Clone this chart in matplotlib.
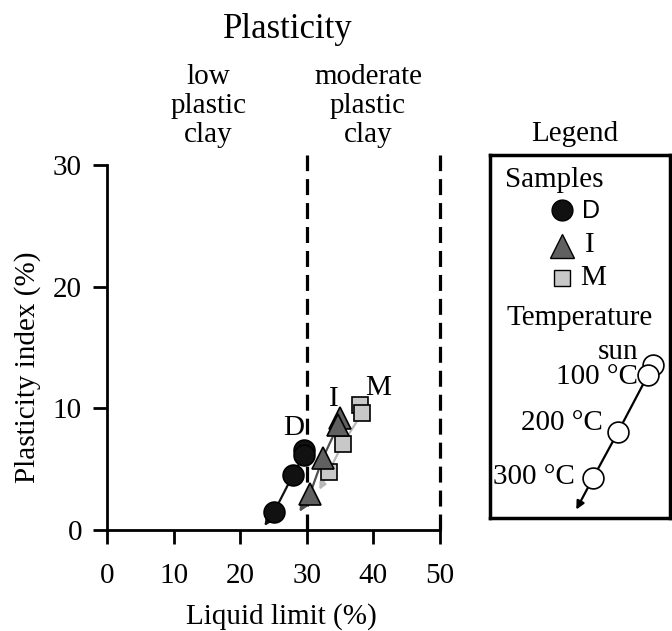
import matplotlib
matplotlib.use("Agg")
import matplotlib.pyplot as plt

plt.rcParams['font.family'] = ['Liberation Serif', 'DejaVu Serif']

# Data (liquid limit %, plasticity index %)
D_ll = [29.6, 29.6, 27.9, 25.1]
D_pi = [6.6, 6.2, 4.5, 1.5]
D_arrow = [23.4, 0.15]

I_ll = [35.0, 34.7, 32.4, 30.5]
I_pi = [9.2, 8.6, 5.9, 3.0]
I_arrow = [28.7, 1.3]

M_ll = [38.0, 38.3, 35.4, 33.3]
M_pi = [10.3, 9.6, 7.1, 4.8]
M_arrow = [31.7, 3.1]

xticks = [0, 10, 20, 30, 40, 50]
yticks = [0, 10, 20, 30]
boundaries = [30, 50]
zones = ["low\nplastic\nclay", "moderate\nplastic\nclay"]
zone_x = [15.2, 39.2]

FS = 21

fig = plt.figure(figsize=(6.72, 6.31), dpi=100)
ax = fig.add_axes([107/672, 1 - 530/631, 333/672, 365/631])
ax.set_xlim(0, 50)
ax.set_ylim(0, 30)
for s in ['top', 'right']:
    ax.spines[s].set_visible(False)
for s in ['left', 'bottom']:
    ax.spines[s].set_linewidth(2.0)
ax.set_xticks(xticks)
ax.set_yticks(yticks)
ax.tick_params(direction='out', length=10, width=2.0, labelsize=FS)
ax.tick_params(axis='x', pad=14)
ax.tick_params(axis='y', pad=8)
ax.set_xlabel("Liquid limit (%)", fontsize=FS)
ax.set_ylabel("Plasticity index (%)", fontsize=FS)
ax.xaxis.set_label_coords(0.525, (530 - 617) / 365)
ax.xaxis.label.set_verticalalignment('center')
ax.yaxis.set_label_coords((28 - 107) / 333, (530 - 367) / 365)
ax.yaxis.label.set_verticalalignment('center')

for b in boundaries:
    ax.plot([b, b], [0, 30.8], color='black', lw=2.3, ls=(0, (5, 2.5)), clip_on=False, zorder=1)

for zx, zt in zip(zone_x, zones):
    ax.text(zx, (530 - 106) / 365, zt, ha='center', va='center', fontsize=FS,
            linespacing=1.15, transform=ax.get_xaxis_transform())
fig.text(288/672, 1 - 30/631, "Plasticity", ha='center', va='center', fontsize=25)

def series(ll, pi, arr, color, lcolor, marker, ms):
    ax.plot(ll, pi, color=lcolor, lw=1.6, zorder=2)
    ax.annotate("", xy=arr, xytext=(ll[-1], pi[-1]),
                arrowprops=dict(arrowstyle='-|>', color=lcolor, lw=1.6, mutation_scale=10),
                zorder=2)
    ax.plot(ll, pi, ls='none', marker=marker, ms=ms, mfc=color, mec='black',
            mew=1.2, zorder=3, clip_on=False)

series(M_ll, M_pi, M_arrow, '#c8c8c8', '#b8b8b8', 's', 12)
series(I_ll, I_pi, I_arrow, '#606060', '#505050', '^', 16)
series(D_ll, D_pi, D_arrow, '#111111', '#111111', 'o', 15)

ax.text(28.0, 8.4, "D", fontsize=FS, ha='center', va='center')
ax.text(34.0, 10.8, "I", fontsize=FS, ha='center', va='center')
ax.text(40.7, 11.7, "M", fontsize=FS, ha='center', va='center')

# Legend panel
lg = fig.add_axes([490/672, 1 - 518/631, 180/672, 363/631])
lg.set_xlim(490, 670)
lg.set_ylim(518, 155)
lg.set_xticks([])
lg.set_yticks([])
for s in lg.spines.values():
    s.set_linewidth(2.5)
fig.text(575/672, 1 - 134/631, "Legend", ha='center', va='center', fontsize=FS)
lg.text(554, 180, "Samples", fontsize=FS, ha='center', va='center')
lg.plot([562], [210], 'o', ms=15, mfc='#111111', mec='black')
lg.text(582, 211, "D", fontsize=18, ha='left', va='center', family='Liberation Sans')
lg.plot([562], [246], '^', ms=17, mfc='#606060', mec='black')
lg.text(590, 245, "I", fontsize=FS, ha='center', va='center')
lg.plot([562], [278], 's', ms=12, mfc='#c8c8c8', mec='black')
lg.text(593, 278, "M", fontsize=FS, ha='center', va='center')
lg.text(580, 318, "Temperature", fontsize=FS, ha='center', va='center')

temp_x = [653, 648, 618, 593]
temp_y = [365, 375, 432, 478]
temp_lbl = ["sun", "100 °C", "200 °C", "300 °C"]
lg.plot(temp_x[1:], temp_y[1:], color='black', lw=1.6, zorder=2)
lg.annotate("", xy=(575, 512), xytext=(temp_x[-1], temp_y[-1]),
            arrowprops=dict(arrowstyle='-|>', color='black', lw=1.6, mutation_scale=12))
lg.plot(temp_x, temp_y, 'o', ls='none', ms=15, mfc='white', mec='black', mew=1.2, zorder=3)
lg.text(618, 352, temp_lbl[0], fontsize=FS, ha='center', va='center')
lg.text(638, 377, temp_lbl[1], fontsize=FS, ha='right', va='center')
lg.text(603, 423, temp_lbl[2], fontsize=FS, ha='right', va='center')
lg.text(575, 477, temp_lbl[3], fontsize=FS, ha='right', va='center')

fig.savefig("out.png", dpi=100)
